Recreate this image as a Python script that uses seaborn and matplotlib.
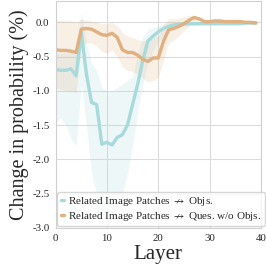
import numpy as np
import pandas as pd
import matplotlib
matplotlib.use("Agg")
import matplotlib.pyplot as plt
import seaborn as sns

layers = list(range(40))

# Related Image Patches -/-> Objs.
obj_mean = [-0.69, -0.70, -0.70, -0.68, -0.78, -0.15, -0.75, -1.17, -1.20, -1.78,
            -1.75, -1.79, -1.68, -1.64, -1.50, -1.20, -0.90, -0.55, -0.27, -0.20,
            -0.14, -0.09, -0.06, -0.04, -0.03, -0.02, -0.02, -0.02, -0.02, -0.02,
            -0.02, -0.02, -0.02, -0.02, -0.02, -0.02, -0.02, -0.01, -0.01, -0.01]
obj_low = [-1.45, -1.40, -1.50, -1.70, -1.80, -0.90, -1.50, -2.20, -2.50, -2.80,
           -2.85, -2.80, -2.60, -2.50, -2.20, -1.80, -1.30, -0.90, -0.60, -0.40,
           -0.30, -0.20, -0.12, -0.08, -0.06, -0.05, -0.05, -0.05, -0.04, -0.04,
           -0.04, -0.04, -0.04, -0.04, -0.04, -0.04, -0.04, -0.03, -0.03, -0.03]
obj_high = [-0.45, -0.45, -0.45, -0.40, -0.45, 0.15, -0.30, -0.60, -0.70, -0.95,
            -1.00, -1.00, -0.95, -0.90, -0.85, -0.80, -0.45, -0.20, -0.10, -0.08,
            -0.05, -0.02, 0.00, 0.00, 0.00, 0.00, 0.00, 0.00, 0.00, 0.00,
            0.00, 0.00, 0.00, 0.00, 0.00, 0.00, 0.00, 0.00, 0.00, 0.00]

# Related Image Patches -/-> Ques. w/o Objs.
ques_mean = [-0.40, -0.41, -0.41, -0.42, -0.44, -0.10, -0.09, -0.10, -0.14, -0.18,
             -0.19, -0.16, -0.22, -0.40, -0.44, -0.44, -0.48, -0.54, -0.57, -0.52,
             -0.52, -0.28, -0.11, -0.09, -0.06, -0.02, 0.03, 0.07, 0.05, 0.01,
             0.01, 0.02, 0.02, 0.01, 0.01, 0.01, 0.01, 0.00, 0.00, -0.01]
ques_low = [-0.95, -0.98, -1.00, -1.00, -1.02, -0.35, -0.30, -0.30, -0.35, -0.42,
            -0.45, -0.40, -0.50, -0.65, -0.70, -0.72, -0.75, -0.82, -0.87, -0.85,
            -0.80, -0.55, -0.30, -0.26, -0.20, -0.12, -0.05, 0.02, 0.01, -0.02,
            -0.02, -0.02, -0.02, -0.02, -0.02, -0.02, -0.02, -0.02, -0.02, -0.02]
ques_high = [0.02, 0.03, 0.02, 0.02, 0.00, 0.05, 0.03, 0.02, 0.00, -0.02,
             -0.02, 0.00, -0.05, -0.15, -0.20, -0.22, -0.25, -0.27, -0.25, -0.22,
             -0.20, -0.05, 0.05, 0.05, 0.06, 0.08, 0.10, 0.10, 0.07, 0.03,
             0.03, 0.03, 0.02, 0.02, 0.02, 0.02, 0.02, 0.02, 0.02, 0.02]

labels = [r"Related Image Patches $\nrightarrow$ Objs.",
          r"Related Image Patches $\nrightarrow$ Ques. w/o Objs."]
colors = ["#a8dadc", "#e0b080"]

sns.set_style("whitegrid")
plt.rcParams["font.family"] = ["Liberation Serif", "DejaVu Serif"]
plt.rcParams["mathtext.fontset"] = "stix"
plt.rcParams["axes.unicode_minus"] = False

fig = plt.figure(figsize=(2.66, 2.66), dpi=100)
ax = fig.add_axes([0.209, 0.143, 0.772, 0.853])

df = pd.DataFrame({
    "Layer": layers * 2,
    "value": obj_mean + ques_mean,
    "series": [labels[0]] * 40 + [labels[1]] * 40,
})
bands = [(obj_low, obj_high), (ques_low, ques_high)]
for c, (lo, hi) in zip(colors, bands):
    ax.fill_between(layers, lo, hi, color=c, alpha=0.2, linewidth=0)
sns.lineplot(data=df, x="Layer", y="value", hue="series", palette=colors,
             linewidth=2.4, ax=ax)

ax.set_xlim(0, 40)
ax.set_ylim(-3.0, 0.31)
ax.set_xticks([0, 10, 20, 30, 40])
ax.set_yticks(np.arange(-3.0, 0.01, 0.5))
ax.set_yticklabels([f"{v:.1f}" for v in np.arange(-3.0, 0.01, 0.5)])
ax.tick_params(labelsize=7.8, pad=1)
ax.set_xlabel("Layer", fontsize=15, labelpad=1)
ax.set_ylabel("Change in probability (%)", fontsize=14.5, labelpad=2)
for s in ax.spines.values():
    s.set_color("#d0d0d0")
ax.grid(color="#dcdcdc", linewidth=0.8)

leg = ax.legend(loc="lower left", fontsize=8, handlelength=0.3,
                handletextpad=0.4, borderpad=0.3, labelspacing=0.15,
                borderaxespad=0.15, frameon=True)
for h in leg.get_lines():
    h.set_linewidth(2.4)

fig.savefig("out.png", dpi=100)
